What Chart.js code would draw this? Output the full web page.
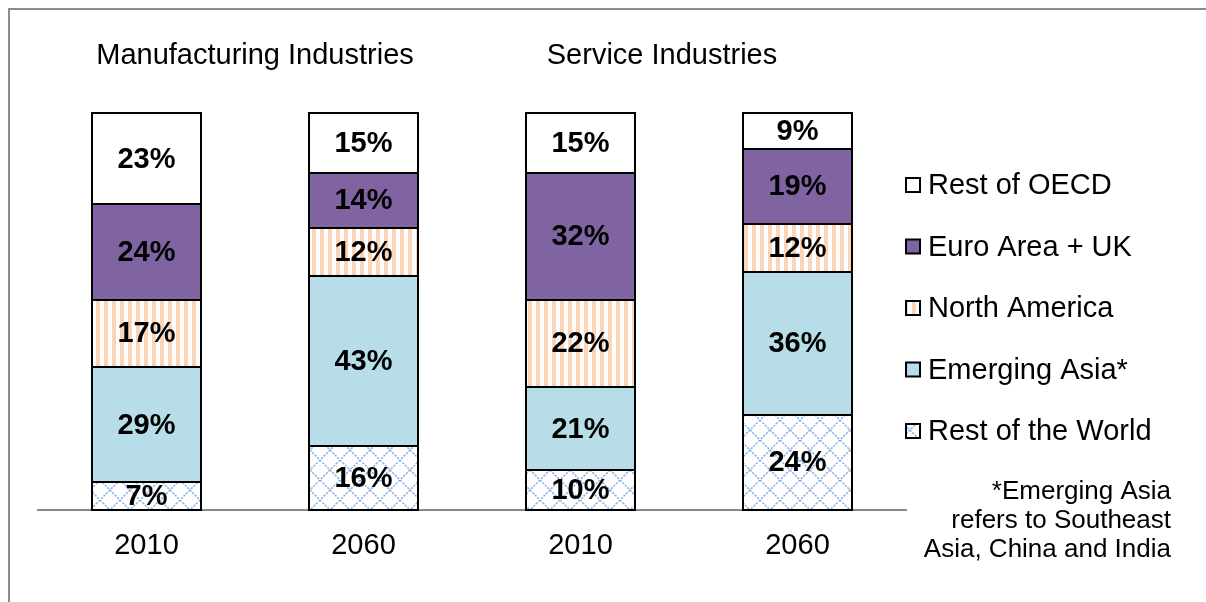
<!DOCTYPE html>
<html><head><meta charset="utf-8">
<script src="https://cdn.jsdelivr.net/npm/chart.js@4.4.1/dist/chart.umd.min.js"></script>
<style>html,body{margin:0;padding:0;background:#fff;}</style>
</head><body>
<canvas id="c" width="1206" height="602"></canvas>
<script>
// ---- data ----
const categories = ['2010', '2060', '2010', '2060'];
const groupTitles = ['Manufacturing Industries', 'Service Industries'];
const restOfWorld = [7, 16, 10, 24];
const emergingAsia = [29, 43, 21, 36];
const northAmerica = [17, 12, 22, 12];
const euroAreaUK = [24, 14, 32, 19];
const restOfOECD = [23, 15, 15, 9];
const seriesNames = ['Rest of the World', 'Emerging Asia*', 'North America', 'Euro Area + UK', 'Rest of OECD'];
const footnote = ['*Emerging Asia', 'refers to Southeast', 'Asia, China and India'];

const FONT = '"Liberation Sans", Arial, sans-serif';
const canvas = document.getElementById('c');
const ctx = canvas.getContext('2d');

function stripePattern() {
  const c = document.createElement('canvas'); c.width = 8; c.height = 8;
  const g = c.getContext('2d');
  g.fillStyle = '#ffffff'; g.fillRect(0, 0, 8, 8);
  g.fillStyle = '#fbd5b5'; g.fillRect(0, 0, 4, 8);
  return ctx.createPattern(c, 'repeat');
}
function diamondPattern() {
  const s = 20;
  const c = document.createElement('canvas'); c.width = s; c.height = s;
  const g = c.getContext('2d');
  g.fillStyle = '#ffffff'; g.fillRect(0, 0, s, s);
  g.strokeStyle = '#8db3e2'; g.lineWidth = 1.6;
  g.setLineDash([2.2, 1.3]);
  g.beginPath(); g.moveTo(0, 0); g.lineTo(s, s); g.stroke();
  g.beginPath(); g.moveTo(s, 0); g.lineTo(0, s); g.stroke();
  return ctx.createPattern(c, 'repeat');
}
const fills = [diamondPattern(), '#b7dee8', stripePattern(), '#8064a2', '#ffffff'];
const values = [restOfWorld, emergingAsia, northAmerica, euroAreaUK, restOfOECD];

const datasets = values.map((v, i) => ({
  label: seriesNames[i],
  data: v,
  backgroundColor: fills[i],
  borderWidth: 0,
  inflateAmount: 0,
  barPercentage: 1,
  categoryPercentage: 0.5115
}));

const decorPlugin = {
  id: 'decor',
  beforeDraw(chart) {
    const c = chart.ctx;
    c.save();
    c.strokeStyle = '#8c8c8c'; c.lineWidth = 2;
    c.beginPath(); c.moveTo(9, 602); c.lineTo(9, 9); c.lineTo(1206, 9); c.stroke();
    c.restore();
  },
  afterDatasetsDraw(chart) {
    const c = chart.ctx;
    c.save();
    c.strokeStyle = '#000'; c.lineWidth = 2;
    chart.data.datasets.forEach((ds, i) => {
      chart.getDatasetMeta(i).data.forEach((el) => {
        const p = el.getProps(['x', 'y', 'base', 'width'], true);
        const l = Math.round(p.x - p.width / 2) + 1, r = Math.round(p.x + p.width / 2) - 1;
        const t = Math.round(p.y), b = Math.round(p.base);
        c.strokeRect(l, t, r - l, b - t);
      });
    });
    c.font = 'bold 29px ' + FONT;
    c.fillStyle = '#000'; c.textAlign = 'center'; c.textBaseline = 'middle';
    chart.data.datasets.forEach((ds, i) => {
      chart.getDatasetMeta(i).data.forEach((el, j) => {
        const p = el.getProps(['x', 'y', 'base'], true);
        c.fillText(ds.data[j] + '%', p.x, (p.y + p.base) / 2 + 1);
      });
    });
    c.restore();
  },
  afterDraw(chart) {
    const c = chart.ctx;
    const xs = chart.scales.x;
    c.save();
    c.fillStyle = '#000'; c.textBaseline = 'middle';
    c.font = '29px ' + FONT; c.textAlign = 'center';
    c.fillText(groupTitles[0], (xs.getPixelForValue(0) + xs.getPixelForValue(1)) / 2, 56);
    c.fillText(groupTitles[1], (xs.getPixelForValue(2) + xs.getPixelForValue(3)) / 2 - 27, 56);
    const n = chart.data.datasets.length;
    c.textAlign = 'left';
    for (let k = 0; k < n; k++) {
      const i = n - 1 - k;
      const ds = chart.data.datasets[i];
      const cy = 185 + k * 61.5;
      c.fillStyle = ds.backgroundColor;
      c.fillRect(906, cy - 7, 14, 14);
      c.strokeStyle = '#000'; c.lineWidth = 2;
      c.strokeRect(906, cy - 7, 14, 14);
      c.fillStyle = '#000';
      c.fillText(ds.label, 928, cy + 1);
    }
    c.font = '26px ' + FONT; c.textAlign = 'right';
    footnote.forEach((t, k) => c.fillText(t, 1171, 492 + k * 29));
    c.restore();
  }
};

new Chart(ctx, {
  type: 'bar',
  data: { labels: categories, datasets },
  options: {
    responsive: false,
    animation: false,
    layout: { padding: { left: 38, top: 113, right: 300, bottom: 0 } },
    plugins: { legend: { display: false }, tooltip: { enabled: false } },
    scales: {
      x: {
        stacked: true,
        grid: { display: false, drawTicks: false },
        border: { display: true, color: '#898989', width: 2 },
        ticks: { color: '#000', font: { family: FONT, size: 29 }, padding: 19 },
        afterFit(s) { s.height = 92; }
      },
      y: { stacked: true, display: false, min: 0, max: 100 }
    }
  },
  plugins: [decorPlugin]
});
</script>
</body></html>
